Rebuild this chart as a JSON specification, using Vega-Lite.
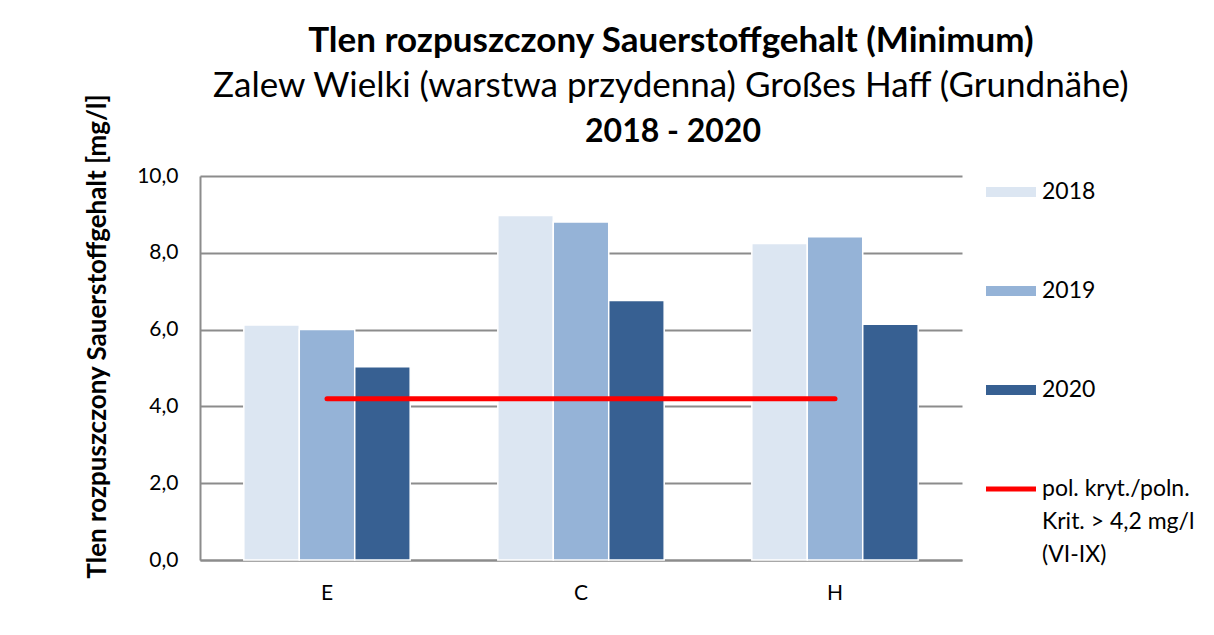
{
  "$schema": "https://vega.github.io/schema/vega-lite/v6.json",
  "background": "white",
  "padding": {"left": 84, "top": 24, "right": 0, "bottom": 0},
  "title": {
    "text": "Tlen rozpuszczony  Sauerstoffgehalt  (Minimum)",
    "subtitle": "Zalew Wielki (warstwa przydenna)  Großes Haff (Grundnähe)",
    "anchor": "middle",
    "font": "Lato",
    "fontSize": 35,
    "fontWeight": "bold",
    "color": "black",
    "subtitleFont": "Lato",
    "subtitleFontSize": 35,
    "subtitleFontWeight": "normal",
    "subtitleColor": "black",
    "subtitlePadding": 10,
    "dx": 31,
    "offset": -14
  },
  "vconcat": [
    {
      "width": 762,
      "height": 384,
      "title": {
        "text": "2018 - 2020",
        "anchor": "middle",
        "frame": "group",
        "font": "Lato",
        "fontSize": 32,
        "fontWeight": "bold",
        "color": "black",
        "dx": 92,
        "offset": -59
      },
      "data": {
        "values": [
          {"station": "E", "series": "2018", "value": 6.12},
          {"station": "E", "series": "2019", "value": 6.0},
          {"station": "E", "series": "2020", "value": 5.03},
          {"station": "C", "series": "2018", "value": 8.97},
          {"station": "C", "series": "2019", "value": 8.8},
          {"station": "C", "series": "2020", "value": 6.76},
          {"station": "H", "series": "2018", "value": 8.24},
          {"station": "H", "series": "2019", "value": 8.42},
          {"station": "H", "series": "2020", "value": 6.14},
          {"station": "E", "series": "pol. kryt./poln. Krit. > 4,2 mg/l (VI-IX)", "value": 4.2},
          {"station": "C", "series": "pol. kryt./poln. Krit. > 4,2 mg/l (VI-IX)", "value": 4.2},
          {"station": "H", "series": "pol. kryt./poln. Krit. > 4,2 mg/l (VI-IX)", "value": 4.2}
        ]
      },
      "encoding": {
        "x": {
          "field": "station",
          "type": "nominal",
          "sort": ["E", "C", "H"],
          "scale": {"paddingInner": 0.345, "paddingOuter": 0.1725},
          "axis": {
            "title": null,
            "labelAngle": 0,
            "labelFont": "Lato",
            "labelFontSize": 21,
            "labelColor": "black",
            "labelPadding": 22,
            "ticks": false,
            "domainColor": "#8c8c8c",
            "domainWidth": 2,
            "grid": false
          }
        },
        "y": {
          "field": "value",
          "type": "quantitative",
          "scale": {"domain": [0, 10]},
          "axis": {
            "title": "Tlen rozpuszczony  Sauerstoffgehalt [mg/l]",
            "titleFont": "Lato",
            "titleFontSize": 26,
            "titleFontWeight": "bold",
            "titleColor": "black",
            "titleY": 160,
            "titlePadding": 26,
            "values": [0, 2, 4, 6, 8, 10],
            "labelExpr": "replace(format(datum.value, '.1f'), '.', ',')",
            "labelFont": "Lato",
            "labelFontSize": 21,
            "labelColor": "black",
            "labelPadding": 22,
            "ticks": false,
            "domainColor": "#8c8c8c",
            "domainWidth": 2,
            "grid": true,
            "gridColor": "#8c8c8c",
            "gridWidth": 2
          }
        },
        "color": {
          "field": "series",
          "type": "nominal",
          "scale": {
            "domain": ["2018", "2019", "2020", "pol. kryt./poln. Krit. > 4,2 mg/l (VI-IX)"],
            "range": ["#dce6f2", "#95b3d7", "#376092", "#ff0000"]
          },
          "legend": {
            "title": null,
            "orient": "none",
            "legendX": 786,
            "legendY": -9,
            "padding": 0,
            "symbolSize": 2500,
            "symbolType": "M-1,-0.2H1V0.2H-1Z",
            "labelFont": "Lato",
            "labelFontSize": 23,
            "labelColor": "black",
            "labelOffset": 6,
            "labelLimit": 400,
            "rowPadding": 62,
            "labelExpr": "indexof(datum.label, 'pol') === 0 ? ['pol. kryt./poln.', 'Krit. > 4,2 mg/l', '(VI-IX)'] : datum.label",
            "encode": {
              "symbols": {
                "update": {
                  "shape": {"signal": "indexof(datum.value, 'pol') === 0 ? 'M-1,-0.1H1V0.1H-1Z' : 'M-1,-0.2H1V0.2H-1Z'"},
                  "fill": {"scale": "color", "field": "value"},
                  "stroke": {"value": "transparent"},
                  "strokeWidth": {"value": 0},
                  "opacity": {"value": 1}
                }
              },
              "labels": {
                "update": {"lineHeight": {"value": 33}}
              }
            }
          }
        }
      },
      "layer": [
        {
          "transform": [{"filter": {"field": "series", "oneOf": ["2018", "2019", "2020"]}}],
          "mark": {"type": "bar", "stroke": "white", "strokeWidth": 1.5},
          "encoding": {
            "xOffset": {"field": "series", "type": "nominal", "sort": ["2018", "2019", "2020"], "scale": {"paddingInner": 0, "paddingOuter": 0}}
          }
        },
        {
          "transform": [{"filter": {"field": "series", "oneOf": ["pol. kryt./poln. Krit. > 4,2 mg/l (VI-IX)"]}}],
          "mark": {"type": "line", "strokeWidth": 5, "strokeCap": "round"}
        }
      ]
    }
  ],
  "config": {
    "view": {"stroke": null},
    "font": "Lato"
  }
}
